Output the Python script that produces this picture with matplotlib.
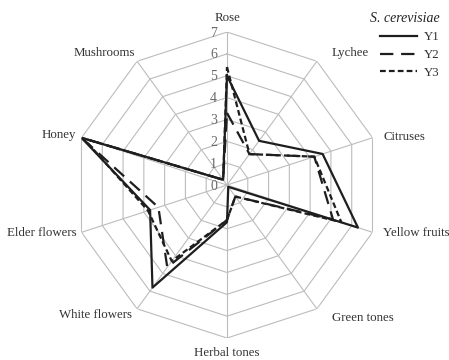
import numpy as np
import matplotlib
matplotlib.use("Agg")
import matplotlib.pyplot as plt

# aroma descriptors (clockwise from top)
categories = ["Rose", "Lychee", "Citruses", "Yellow fruits", "Green tones",
              "Herbal tones", "White flowers", "Elder flowers", "Honey", "Mushrooms"]
y1 = [5.0, 2.5, 4.6, 6.3, 0.1, 1.7, 5.8, 3.7, 7.0, 0.3]
y2 = [3.3, 1.75, 4.2, 5.1, 0.65, 1.6, 4.65, 3.3, 7.0, 0.3]
y3 = [5.4, 1.75, 4.2, 5.5, 0.65, 1.6, 4.3, 3.8, 6.9, 0.3]
ticks = [0, 1, 2, 3, 4, 5, 6, 7]

# label offsets in pixels from the outer vertex
label_pos = {
    "Rose": (1, 8, "center", "bottom"),
    "Lychee": (15, 8, "left", "center"),
    "Citruses": (11, 1, "left", "center"),
    "Yellow fruits": (10, -1, "left", "center"),
    "Green tones": (15, -9, "left", "center"),
    "Herbal tones": (0, -9, "center", "top"),
    "White flowers": (-5, -6, "right", "center"),
    "Elder flowers": (-5, -1, "right", "center"),
    "Honey": (-5, 3, "right", "center"),
    "Mushrooms": (-2, 8, "right", "center"),
}

plt.rcParams["font.family"] = ["Liberation Serif", "DejaVu Serif"]

fig = plt.figure(figsize=(4.49, 3.60), dpi=100)
ax = fig.add_axes([0.1648, 0.061, 0.6815, 0.85], projection="polar")
ax.set_theta_offset(np.pi / 2)
ax.set_theta_direction(-1)
ax.set_ylim(0, 7)
ax.grid(False)
ax.spines["polar"].set_visible(False)
ax.set_xticks([])
ax.set_yticks([])
ax.patch.set_alpha(0)

n = len(categories)
angles = np.arange(n) * 2 * np.pi / n
ang_closed = np.append(angles, angles[0])

grid_col = "#bcbcbc"
for r in ticks[1:]:
    ax.plot(ang_closed, [r] * (n + 1), color=grid_col, lw=0.8, zorder=1)
for a in angles:
    ax.plot([a, a], [0, 7], color=grid_col, lw=0.8, zorder=1)

for t in ticks:
    ax.annotate(str(t), (0, t), xytext=(-10, -1), textcoords="offset pixels",
                ha="right", va="center", fontsize=10, color="#6a6a6a", zorder=2)

for a, c in zip(angles, categories):
    dx, dy, ha, va = label_pos[c]
    ax.annotate(c, (a, 7), xytext=(dx, dy), textcoords="offset pixels",
                ha=ha, va=va, fontsize=9.3, color="#333333", annotation_clip=False)

styles = [
    ("Y1", y1, "-"),
    ("Y2", y2, (0, (6, 3.5))),
    ("Y3", y3, (0, (2.6, 1.4))),
]
for name, vals, ls in styles:
    ax.plot(ang_closed, vals + vals[:1], color="#1e1e1e", lw=1.6, ls=ls,
            label=name, zorder=3)

leg = ax.legend(loc="upper right", bbox_to_anchor=(0.99, 0.98),
                bbox_transform=fig.transFigure, frameon=False,
                title="S. cerevisiae", fontsize=9.3, handlelength=2.9,
                handletextpad=0.5, labelspacing=0.45, borderaxespad=0,
                title_fontproperties={"style": "italic", "size": 10})
leg.get_title().set_color("#222222")
leg._legend_box.align = "right"
for txt in leg.get_texts():
    txt.set_color("#333333")

fig.savefig("out.png", dpi=100)
